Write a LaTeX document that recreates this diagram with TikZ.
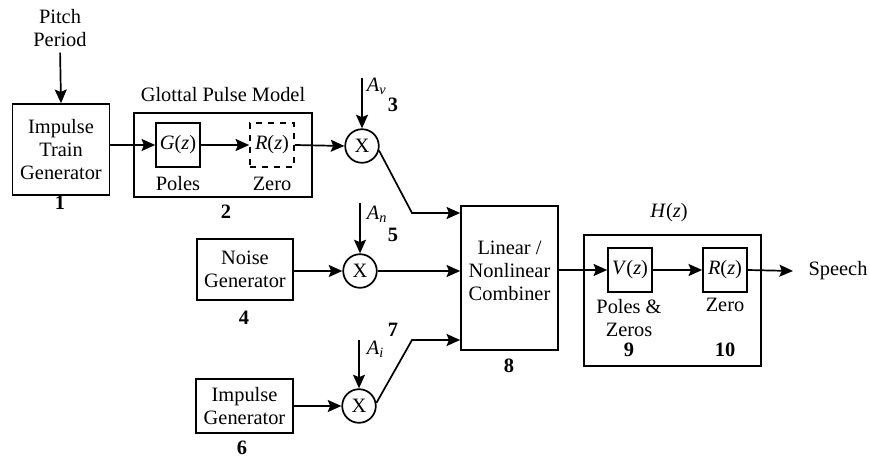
\documentclass[tikz,border=0pt]{standalone}
\usepackage{fontspec}
\setmainfont{Liberation Serif}
\usetikzlibrary{arrows.meta}
\begin{document}
\begin{tikzpicture}[x=0.5pt,y=-0.5pt,
  font=\fontsize{10.2}{11.6}\selectfont,
  line width=0.85pt,
  box/.style={draw, rectangle, inner sep=0pt, align=center},
  mult/.style={draw, circle, minimum size=16.8pt, inner sep=0pt},
  lbl/.style={inner sep=0pt, align=center},
  num/.style={inner sep=0pt, font=\fontsize{10.2}{11.6}\selectfont\bfseries},
  sig/.style={-{Stealth[length=6.8pt,width=6pt,inset=1.2pt]}}]
\useasboundingbox (0,0) rectangle (870,458);

% excitation sources
\node[lbl] (pitch) at (60,28) {Pitch\\Period};
\node[box, minimum width=48.5pt, minimum height=45.5pt] (itg) at (61,149.5) {Impulse\\Train\\Generator};
\node[num] (n1) at (60,203) {1};

\node[box, minimum width=89pt, minimum height=42pt] (glot) at (223,155) {};
\node[lbl] (glotlbl) at (223,95) {Glottal Pulse Model};
\node[box, minimum width=22pt, minimum height=22pt] (G) at (178,145) {\textit{G}(\textit{z})};
\node[box, dashed, minimum width=22pt, minimum height=22pt] (Rg) at (272,145) {\textit{R}(\textit{z})};
\node[lbl] (poles1) at (178,184) {Poles};
\node[lbl] (zero1) at (272,184) {Zero};
\node[num] (n2) at (226,212) {2};

\node[box, minimum width=48pt, minimum height=30.5pt] (noise) at (245,269.5) {Noise\\Generator};
\node[num] (n4) at (244,318) {4};
\node[box, minimum width=48.5pt, minimum height=27pt] (imp) at (244.5,406) {Impulse\\Generator};
\node[num] (n6) at (242,448) {6};

% gain multipliers
\node[mult] (m1) at (362,146) {X};
\node[mult] (m2) at (360,271) {X};
\node[mult] (m3) at (359,406) {X};

\coordinate (av) at (362,78);
\coordinate (an) at (360,203);
\coordinate (ai) at (359,340);
\node[lbl, anchor=west] (avl) at (366,86) {\textit{A}\textsubscript{\textit{v}}};
\node[lbl, anchor=west] (anl) at (366,214) {\textit{A}\textsubscript{\textit{n}}};
\node[lbl, anchor=west] (ail) at (366,349) {\textit{A}\textsubscript{\textit{i}}};
\node[num] (n3) at (393,105) {3};
\node[num] (n5) at (393,235) {5};
\node[num] (n7) at (393,330) {7};

% combiner
\node[box, minimum width=48.5pt, minimum height=72pt] (comb) at (509.5,278) {};
\node[lbl] (combl) at (509.5,271) {Linear /\\Nonlinear\\Combiner};
\node[num] (n8) at (509,366) {8};

% vocal tract and radiation
\node[box, minimum width=88.5pt, minimum height=65.5pt] (H) at (672.5,300.5) {};
\node[lbl] (Hl) at (669,213) {\textit{H}(\textit{z})};
\node[box, minimum width=22pt, minimum height=22pt] (V) at (630,270) {\textit{V}(\textit{z})};
\node[box, minimum width=22pt, minimum height=22pt] (Rv) at (725,270) {\textit{R}(\textit{z})};
\node[lbl] (poles2) at (629,318) {Poles \&\\Zeros};
\node[lbl] (zero2) at (725,305) {Zero};
\node[num] (n9) at (629,350) {9};
\node[num] (n10) at (725,350) {10};
\node[lbl] (speech) at (838,271) {Speech};
\coordinate (out) at (793,271);

% connectors
\draw[sig, shorten <=2.5pt] (pitch.south) -- (itg.north);
\draw[sig] (itg.east |- G.west) -- (G.west);
\draw[sig] (G.east) -- (Rg.west);
\draw[sig] (Rg.east) -- (m1.west);
\draw[sig] (av) -- (m1.north);
\draw[sig] (an) -- (m2.north);
\draw[sig] (ai) -- (m3.north);
\draw[sig] (noise.east |- m2.west) -- (m2.west);
\draw[sig] (imp.east |- m3.west) -- (m3.west);
\coordinate (k1) at (412,213);
\coordinate (k3) at (412,340);
\draw[sig] (m1.-15) -- (k1) -- (comb.west |- k1);
\draw[sig] (m2.east) -- (comb.west |- m2.east);
\draw[sig] (m3.10) -- (k3) -- (comb.west |- k3);
\draw[sig] (comb.east |- V.west) -- (V.west);
\draw[sig] (V.east) -- (Rv.west);
\draw[sig] (Rv.east) -- (out);
\end{tikzpicture}
\end{document}
